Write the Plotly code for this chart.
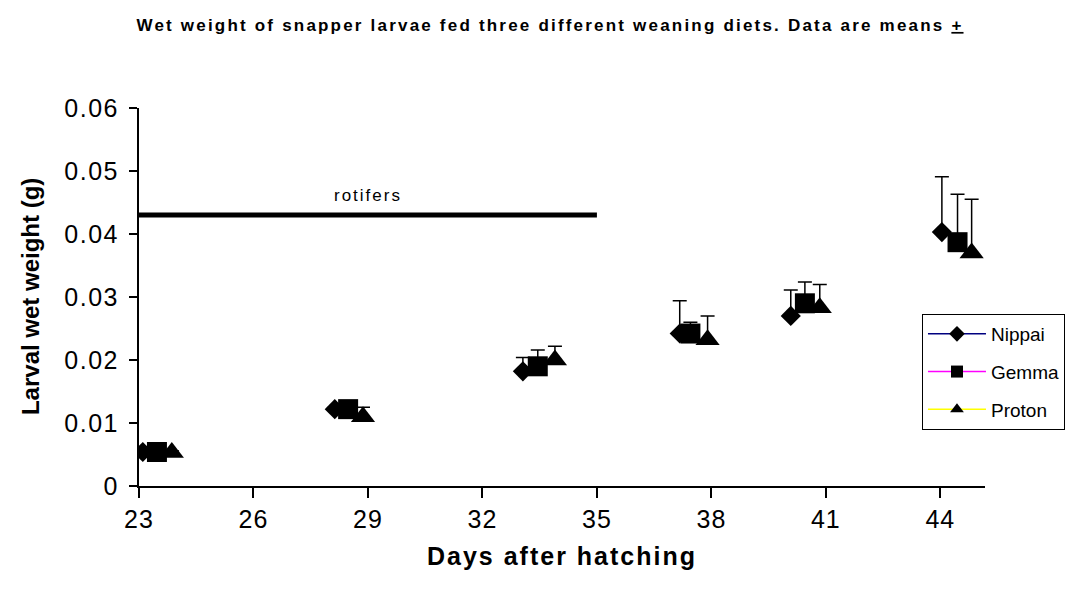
import plotly.graph_objects as go

# Sampling days (small offsets keep the three diets side by side)
nippai_day = [23.1, 28.13, 33.06, 37.17, 40.08, 44.04]
gemma_day = [23.47, 28.48, 33.45, 37.45, 40.45, 44.45]
proton_day = [23.86, 28.87, 33.9, 37.9, 40.84, 44.82]

# Mean larval wet weight (g)
nippai_wt = [0.0054, 0.0122, 0.0182, 0.0242, 0.0270, 0.0403]
gemma_wt = [0.0054, 0.0122, 0.0190, 0.0242, 0.0290, 0.0387]
proton_wt = [0.0053, 0.0110, 0.0200, 0.0232, 0.0283, 0.0370]

# Upper error (g)
nippai_err = [0.0003, 0.0003, 0.0022, 0.0052, 0.0041, 0.0088]
gemma_err = [0.0003, 0.0003, 0.0026, 0.0018, 0.0034, 0.0076]
proton_err = [0.0003, 0.0015, 0.0022, 0.0038, 0.0037, 0.0085]

# Rotifer feeding period
rotifer_days = [23, 35]
rotifer_level = [0.043, 0.043]

x_ticks = [23, 26, 29, 32, 35, 38, 41, 44]
x_tick_text = ["23", "26", "29", "32", "35", "38", "41", "44"]
y_ticks = [0, 0.01, 0.02, 0.03, 0.04, 0.05, 0.06]
y_tick_text = ["0", "0.01", "0.02", "0.03", "0.04", "0.05", "0.06"]

series = [
    ("Nippai", nippai_day, nippai_wt, nippai_err, "diamond", 15.5, "#000080"),
    ("Gemma", gemma_day, gemma_wt, gemma_err, "square", 20, "#FF00FF"),
    ("Proton", proton_day, proton_wt, proton_err, "triangle-up", 21, "#FFFF00"),
]

FONT = "Liberation Sans, Arial, sans-serif"


def spaced(text, px):
    """Wrap text in a span with extra letter spacing."""
    return f'<span style="letter-spacing:{px}px">{text}</span>'


fig = go.Figure()

fig.add_trace(go.Scatter(
    x=rotifer_days, y=rotifer_level, mode="lines",
    line=dict(color="black", width=5), showlegend=False, hoverinfo="skip",
))

for name, xs, ys, err, sym, size, lcol in series:
    fig.add_trace(go.Scatter(
        x=xs, y=ys, mode="markers", name=name, showlegend=False,
        marker=dict(symbol=sym, size=size, color="black", line=dict(width=0)),
        error_y=dict(type="data", symmetric=False, array=err,
                     arrayminus=[0] * len(err), color="black",
                     thickness=1.5, width=7),
    ))

# Legend entries: coloured line with black marker
for name, xs, ys, err, sym, size, lcol in series:
    fig.add_trace(go.Scatter(
        x=[None], y=[None], mode="lines+markers", name=name,
        legendgroup=name,
        line=dict(color=lcol, width=1.5),
        marker=dict(symbol=sym, size=12, color="black"),
    ))

fig.add_annotation(
    x=29, y=0.0461, xref="x", yref="y", text=spaced("rotifers", 2), showarrow=False,
    font=dict(family=FONT, size=17, color="black"),
)

fig.add_annotation(
    x=-0.1288, y=0.5, xref="paper", yref="paper", text="<b>Larval wet weight (g)</b>",
    textangle=-90, showarrow=False, xanchor="center", yanchor="middle",
    font=dict(family=FONT, size=24, color="black"),
)
fig.add_annotation(
    x=0.5, y=-0.185, xref="paper", yref="paper",
    text=spaced("<b>Days after hatching</b>", 2),
    showarrow=False, xanchor="center", yanchor="middle",
    font=dict(family=FONT, size=25, color="black"),
)

tick_font = dict(family=FONT, size=25, color="black")

fig.update_layout(
    width=1070, height=599,
    paper_bgcolor="white", plot_bgcolor="white",
    margin=dict(l=139, r=85, t=108, b=113, autoexpand=False),
    title=dict(
        text=spaced("<b>Wet weight of snapper larvae fed three different weaning diets. Data are means <u>+</u></b>", 2.2),
        x=0.514, xanchor="center", y=1 - 25 / 599, yanchor="middle",
        font=dict(family=FONT, size=17, color="black"),
    ),
    font=dict(family=FONT, color="black"),
    xaxis=dict(
        range=[23, 45.17], tickvals=x_ticks,
        ticktext=[spaced(t, 1) for t in x_tick_text],
        showgrid=False, zeroline=False,
        showline=True, linecolor="black", linewidth=2,
        ticks="outside", ticklen=10, tickwidth=2, tickcolor="black",
        tickfont=tick_font,
    ),
    yaxis=dict(
        range=[0, 0.06], tickvals=y_ticks,
        ticktext=[spaced(t, 1.5) for t in y_tick_text],
        showgrid=False, zeroline=False,
        showline=True, linecolor="black", linewidth=2,
        ticks="outside", ticklen=8, tickwidth=2, tickcolor="black",
        tickfont=tick_font, ticklabelstandoff=5,
    ),
    legend=dict(
        x=0.9255, y=0.455, xanchor="left", yanchor="top",
        bordercolor="black", borderwidth=1, bgcolor="white",
        font=dict(family=FONT, size=19, color="black"),
        tracegroupgap=10, itemwidth=58,
    ),
)

fig.write_html("out.html")
